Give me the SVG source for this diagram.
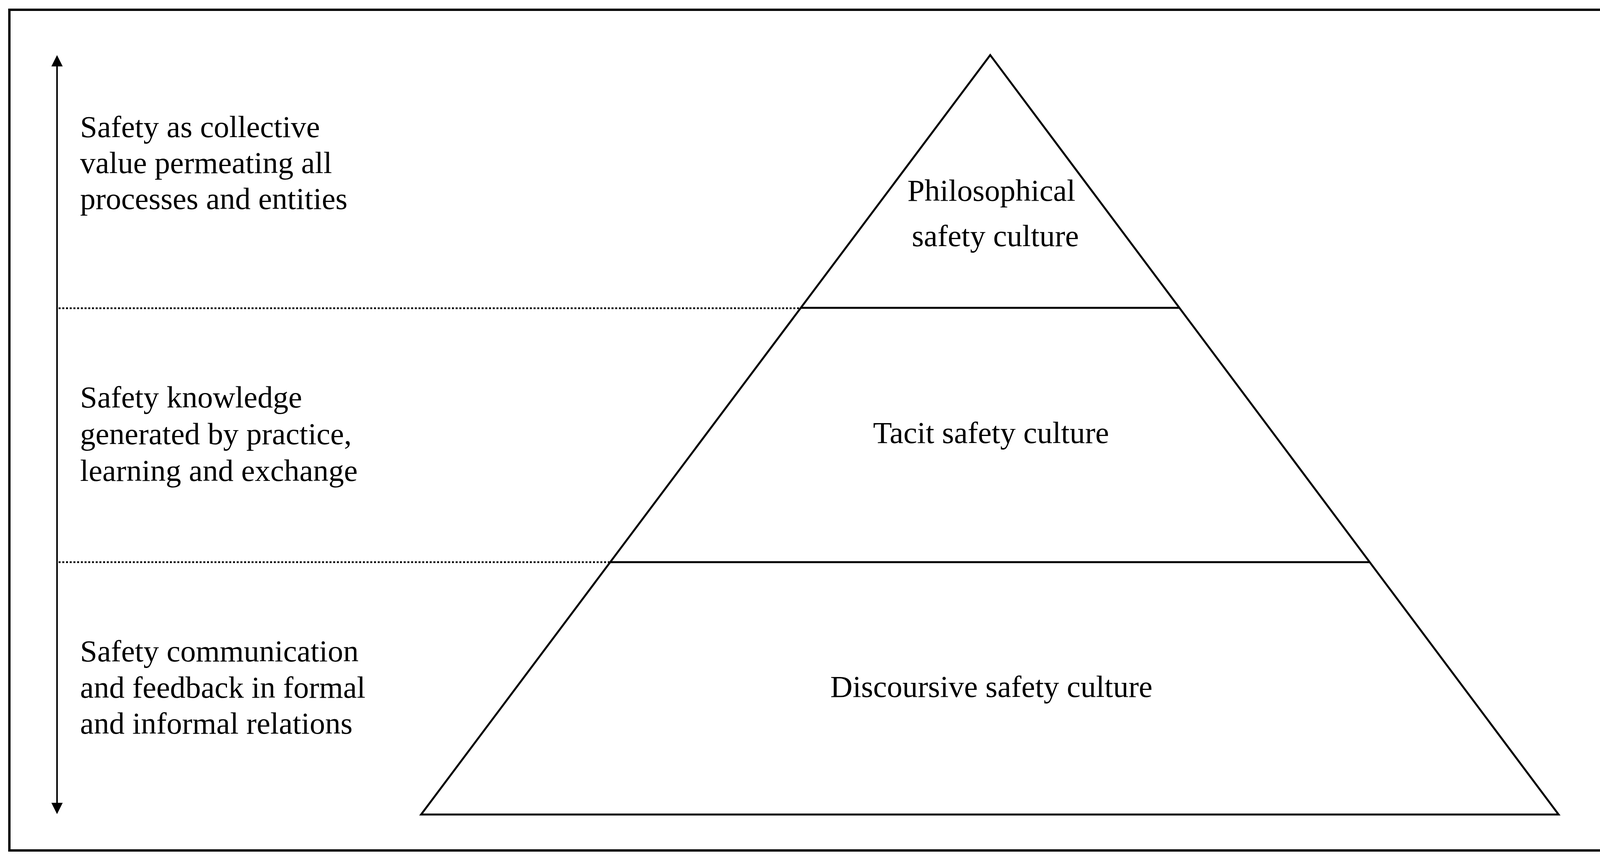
<svg xmlns="http://www.w3.org/2000/svg" width="4146" height="2204" viewBox="0 0 4146 2204">
  <style>
    .frame { fill: #ffffff; stroke: #000000; stroke-width: 6; }
    .solid { fill: none; stroke: #000000; stroke-width: 5; stroke-linejoin: miter; }
    .dotted { fill: none; stroke: #000000; stroke-width: 4.5; stroke-dasharray: 5 4.5; }
    .axis { fill: none; stroke: #000000; stroke-width: 4; }
    .lbl { font-family: "Liberation Serif", "Times New Roman", serif; font-size: 79px; fill: #000000; }
    .mid { text-anchor: middle; }
  </style>
  <defs>
    <marker id="ah" viewBox="0 -15 30 30" refX="0" refY="0" markerWidth="30" markerHeight="30" markerUnits="userSpaceOnUse" orient="auto-start-reverse">
      <path d="M0,-14.5 L29,0 L0,14.5 z" fill="#000000"/>
    </marker>
  </defs>

  <rect id="frame" class="frame" x="24" y="25" width="4088" height="2152"/>

  <g id="connectors">
    <line id="axis-arrow" class="axis" x1="146" y1="170" x2="146" y2="2055" marker-start="url(#ah)" marker-end="url(#ah)"/>
    <line id="dotted-1" class="dotted" x1="150" y1="789" x2="2046" y2="789"/>
    <line id="dotted-2" class="dotted" x1="150" y1="1439" x2="1560" y2="1439"/>
  </g>

  <g id="pyramid">
    <polygon class="solid" points="2535,141 3990,2085 1078,2085"/>
    <line class="solid" x1="2050" y1="788" x2="3019" y2="788"/>
    <line class="solid" x1="1562" y1="1439" x2="3507" y2="1439"/>
  </g>

  <g id="node-philosophical">
    <text class="lbl mid" x="2538" y="514">Philosophical</text>
    <text class="lbl mid" x="2548" y="630">safety culture</text>
  </g>

  <g id="node-tacit">
    <text class="lbl mid" x="2537" y="1134">Tacit safety culture</text>
  </g>

  <g id="node-discoursive">
    <text class="lbl mid" x="2538" y="1784">Discoursive safety culture</text>
  </g>

  <g id="label-top">
    <text class="lbl" x="205" y="351">Safety as collective</text>
    <text class="lbl" x="205" y="443">value permeating all</text>
    <text class="lbl" x="205" y="535">processes and entities</text>
  </g>

  <g id="label-middle">
    <text class="lbl" x="205" y="1043">Safety knowledge</text>
    <text class="lbl" x="205" y="1137">generated by practice,</text>
    <text class="lbl" x="205" y="1231">learning and exchange</text>
  </g>

  <g id="label-bottom">
    <text class="lbl" x="205" y="1693">Safety communication</text>
    <text class="lbl" x="205" y="1786">and feedback in formal</text>
    <text class="lbl" x="205" y="1878">and informal relations</text>
  </g>
</svg>
